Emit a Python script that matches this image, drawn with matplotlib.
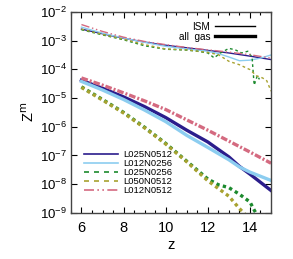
import numpy as np
import matplotlib.pyplot as plt
from matplotlib.lines import Line2D
from matplotlib.ticker import MultipleLocator, LogLocator, NullLocator

plt.rcParams['font.family'] = ['Liberation Sans', 'DejaVu Sans']

# redshift grids and log10 metallicities
z_std = [6, 7, 8, 9, 10, 11, 12, 13, 14, 15]

# ISM (thin lines)
ism_L025N0512 = [-2.60, -2.76, -2.92, -3.05, -3.16, -3.25, -3.34, -3.43, -3.54, -3.66]
ism_L012N0512 = [-2.44, -2.68, -2.88, -3.03, -3.14, -3.24, -3.32, -3.40, -3.49, -3.61]
z_ism_L012N0256 = [6, 7, 8, 9, 10, 11, 12, 12.5, 13, 13.5, 14, 14.5, 15]
ism_L012N0256 = [-2.53, -2.74, -2.91, -3.06, -3.20, -3.29, -3.37, -3.45, -3.57, -3.70, -3.68, -3.61, -3.50]
z_ism_L025N0256 = [6, 7, 8, 9, 10, 11, 11.5, 12, 12.3, 12.6, 13, 13.3, 13.6, 13.9, 14.1, 14.2, 14.35, 14.45]
ism_L025N0256 = [-2.62, -2.80, -2.97, -3.18, -3.30, -3.33, -3.37, -3.43, -3.60, -3.43, -3.27, -3.32, -3.43, -3.37, -3.58, -4.55, -4.22, -4.35]
z_ism_L050N0512 = [6, 7, 8, 9, 10, 11, 12, 12.5, 13, 13.5, 14, 14.3, 14.6, 14.8, 15]
ism_L050N0512 = [-2.60, -2.78, -2.95, -3.14, -3.29, -3.32, -3.41, -3.49, -3.72, -3.84, -4.01, -4.22, -4.30, -4.40, -4.76]

# all gas (thick lines)
z_all_blue = [6, 7, 8, 9, 10, 11, 12, 13, 13.5, 14, 15]
all_L025N0512 = [-4.38, -4.66, -4.96, -5.30, -5.68, -6.12, -6.53, -7.05, -7.38, -7.65, -8.22]
all_L012N0256 = [-4.42, -4.72, -5.05, -5.42, -5.82, -6.30, -6.72, -7.15, -7.40, -7.58, -7.87]
all_L012N0512 = [-4.30, -4.55, -4.82, -5.10, -5.40, -5.76, -6.12, -6.50, -6.88, -7.27]
z_all_L025N0256 = [6, 7, 8, 9, 10, 11, 12, 12.5, 13, 13.5, 14, 14.2, 14.4]
all_L025N0256 = [-4.61, -5.05, -5.50, -6.02, -6.58, -7.20, -7.82, -8.02, -8.12, -8.35, -8.62, -8.90, -9.15]
z_all_L050N0512 = [6, 7, 8, 9, 10, 11, 12, 12.5, 13, 13.5, 13.9]
all_L050N0512 = [-4.63, -5.07, -5.52, -6.04, -6.60, -7.22, -7.88, -8.15, -8.42, -8.85, -9.15]

labels = ["L025N0512", "L012N0256", "L025N0256", "L050N0512", "L012N0512"]
colors = ["#2b1d8c", "#8ccdf0", "#1c8a2e", "#a8a230", "#d46a80"]
styles = ["-", "-", (0, (3, 3)), (0, (3, 3)), (0, (6, 2, 1, 2, 1, 2))]

fig = plt.figure(figsize=(2.93, 2.59), dpi=100)
ax = fig.add_axes([0.242, 0.178, 0.683, 0.776])

thin, thick = 1.0, 2.4
ax.plot(z_std, 10 ** np.array(ism_L025N0512), color=colors[0], ls=styles[0], lw=thin)
ax.plot(z_ism_L012N0256, 10 ** np.array(ism_L012N0256), color=colors[1], ls=styles[1], lw=thin)
ax.plot(z_ism_L025N0256, 10 ** np.array(ism_L025N0256), color=colors[2], ls=(0, (2, 2)), lw=thin)
ax.plot(z_ism_L050N0512, 10 ** np.array(ism_L050N0512), color=colors[3], ls=(0, (2, 2)), lw=thin)
ax.plot(z_std, 10 ** np.array(ism_L012N0512), color=colors[4], ls=styles[4], lw=thin)

ax.plot(z_all_blue, 10 ** np.array(all_L025N0512), color=colors[0], ls="-", lw=thick)
ax.plot(z_all_blue, 10 ** np.array(all_L012N0256), color=colors[1], ls="-", lw=thick)
ax.plot(z_all_L025N0256, 10 ** np.array(all_L025N0256), color=colors[2], ls=(0, (1, 1)), lw=thick)
ax.plot(z_all_L050N0512, 10 ** np.array(all_L050N0512), color=colors[3], ls=(0, (1, 1)), lw=thick)
ax.plot(z_std, 10 ** np.array(all_L012N0512), color=colors[4], ls=(0, (2, 0.6, 0.6, 0.6)), lw=thick)

ax.set_yscale("log")
ax.set_xlim(5.5, 15)
ax.set_ylim(1e-9, 1e-2)
ax.xaxis.set_major_locator(MultipleLocator(2))
ax.xaxis.set_minor_locator(MultipleLocator(0.5))
ax.yaxis.set_major_locator(LogLocator(base=10, numticks=20))
ax.yaxis.set_minor_locator(NullLocator())
ax.tick_params(which="both", direction="in", top=True, right=True, width=0.8)
ax.tick_params(which="major", length=4)
ax.tick_params(which="minor", length=2)
ax.tick_params(axis="x", labelsize=10.5, pad=6)
ax.tick_params(axis="y", labelsize=9.5, pad=3)
for s in ax.spines.values():
    s.set_linewidth(1.0)
    s.set_color("#444444")
ax.set_xlabel("z", fontsize=10.5, labelpad=2)
ax.set_ylabel(r"Z$^{\rm m}$", fontsize=10.5, labelpad=2)

handles = [Line2D([], [], color=c, ls=s, lw=1.2) for c, s in zip(colors, styles)]
leg1 = ax.legend(handles, labels, loc="lower left", bbox_to_anchor=(0.065, 0.09), fontsize=6.8,
                 frameon=False, handlelength=3.6, handletextpad=0.6, labelspacing=0.0,
                 borderpad=0, borderaxespad=0)
ax.add_artist(leg1)
kind = [Line2D([], [], color="black", lw=1.0), Line2D([], [], color="black", lw=2.4)]
ax.legend(kind, ["ISM", "all  gas"], loc="upper right", bbox_to_anchor=(0.92, 0.95), fontsize=7.2,
          frameon=False, markerfirst=False, handlelength=4.0, handletextpad=0.5, labelspacing=0.0,
          borderpad=0, borderaxespad=0)

fig.savefig("out.png", dpi=100)
